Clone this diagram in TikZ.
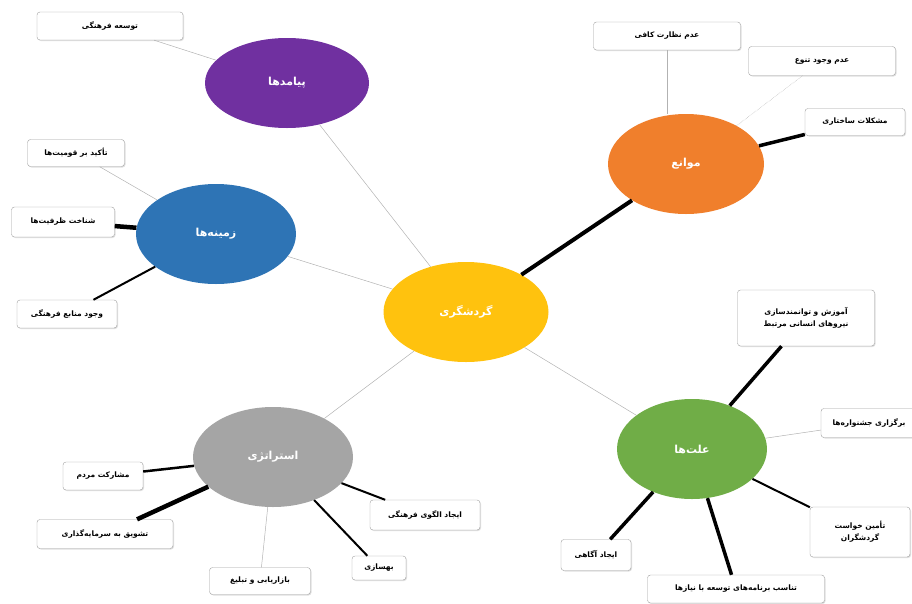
\documentclass[tikz,border=0pt]{standalone}
\usepackage{fontspec}
\usetikzlibrary{shapes.geometric,shadows}
\TeXXeTstate=1
\newfontfamily\farsifont[Script=Arabic]{DejaVu Sans}
\newcommand{\fa}[1]{{\farsifont\beginR #1\endR}}
\definecolor{hub-yellow}{HTML}{FFC20E}
\definecolor{topic-purple}{HTML}{7030A0}
\definecolor{topic-blue}{HTML}{2E74B5}
\definecolor{topic-orange}{HTML}{F07F2C}
\definecolor{topic-green}{HTML}{70AD47}
\definecolor{topic-gray}{HTML}{A5A5A5}
\tikzset{
    topic-ellipse/.style = {ellipse, draw=none, inner sep=0pt, minimum width=160pt, minimum height=100pt, text=white, font=\bfseries\fontsize{11}{13}\selectfont},
    leaf-box/.style = {draw=gray!75, fill=white, rounded corners=3pt, thin, inner sep=3pt, minimum height=28pt, align=center, font=\bfseries\fontsize{7.5}{12}\selectfont, drop shadow={opacity=0.25, shadow xshift=1pt, shadow yshift=-1pt}},
    thin-link/.style = {draw=gray!60, line width=0.5pt},
    mid-link/.style = {draw=black, line width=2pt},
    thick-link/.style = {draw=black, line width=3.5pt},
}

\begin{document}
\begin{tikzpicture}[x=1pt, y=-1pt]
\useasboundingbox (0,0) rectangle (912,603);
% main topics
\node [topic-ellipse, fill=hub-yellow, minimum width=165pt] (hub) at (466,312) {\fa{گردشگری}};
\node [topic-ellipse, fill=topic-purple, minimum width=164pt, minimum height=90pt] (outcomes) at (287,83) {\fa{پیامدها}};
\node [topic-ellipse, fill=topic-blue] (contexts) at (216,234) {\fa{زمینه‌ها}};
\node [topic-ellipse, fill=topic-orange, minimum width=156pt] (barriers) at (686,164) {\fa{موانع}};
\node [topic-ellipse, fill=topic-green, minimum width=150pt] (causes) at (692,449) {\fa{علت‌ها}};
\node [topic-ellipse, fill=topic-gray] (strategy) at (273,457) {\fa{استراتژی}};

% leaves
\node [leaf-box, minimum width=146pt] (out-culture) at (110,26) {\fa{توسعه فرهنگی}};

\node [leaf-box, minimum width=97pt, minimum height=27pt] (ctx-ethnic) at (76,153) {\fa{تأکید بر قومیت‌ها}};
\node [leaf-box, minimum width=103pt, minimum height=30pt] (ctx-capacity) at (63,222) {\fa{شناخت ظرفیت‌ها}};
\node [leaf-box, minimum width=100pt] (ctx-resources) at (67,314) {\fa{وجود منابع فرهنگی}};

\node [leaf-box, minimum width=147pt] (bar-monitor) at (667,36) {\fa{عدم نظارت کافی}};
\node [leaf-box, minimum width=147pt, minimum height=29pt] (bar-variety) at (822,61) {\fa{عدم وجود تنوع}};
\node [leaf-box, minimum width=100pt, minimum height=27pt] (bar-structure) at (855,122) {\fa{مشکلات ساختاری}};

\node [leaf-box, minimum width=137pt, minimum height=56pt] (cause-training) at (806,318) {\fa{آموزش و توانمندسازی}\\\fa{نیروهای انسانی مرتبط}};
\node [leaf-box, minimum width=96pt, minimum height=29pt] (cause-festival) at (869,423) {\fa{برگزاری جشنواره‌ها}};
\node [leaf-box, minimum width=100pt, minimum height=50pt] (cause-demand) at (860,532) {\fa{تأمین خواست}\\\fa{گردشگران}};
\node [leaf-box, minimum width=177pt] (cause-fit) at (736,589) {\fa{تناسب برنامه‌های توسعه با نیازها}};
\node [leaf-box, minimum width=70pt, minimum height=31pt] (cause-aware) at (596,555) {\fa{ایجاد آگاهی}};

\node [leaf-box, minimum width=80pt] (str-people) at (103,476) {\fa{مشارکت مردم}};
\node [leaf-box, minimum width=136pt, minimum height=29pt] (str-invest) at (105,534) {\fa{تشویق به سرمایه‌گذاری}};
\node [leaf-box, minimum width=101pt, minimum height=27pt] (str-marketing) at (260,581) {\fa{بازاریابی و تبلیغ}};
\node [leaf-box, minimum width=54pt, minimum height=24pt] (str-upgrade) at (379,568) {\fa{بهسازی}};
\node [leaf-box, minimum width=110pt, minimum height=30pt] (str-model) at (425,515) {\fa{ایجاد الگوی فرهنگی}};

% links from the hub
\draw [thin-link] (hub) -- (outcomes);
\draw [thin-link] (hub) -- (contexts);
\draw [thin-link] (hub) -- (strategy);
\draw [thin-link] (hub) -- (causes);
\draw [thick-link, line width=4pt] (hub) -- (barriers);

% links to leaves
\draw [thin-link] (outcomes) -- (out-culture);
\draw [thin-link] (contexts) -- (ctx-ethnic);
\draw [thick-link, line width=4.5pt] (contexts) -- (ctx-capacity);
\draw [mid-link] (contexts) -- (ctx-resources);
\draw [thin-link] (barriers.north -| bar-monitor) -- (bar-monitor);
\draw [thin-link, densely dotted] (barriers) -- (bar-variety);
\draw [thick-link] (barriers) -- (bar-structure);
\draw [thick-link] (causes) -- (cause-training);
\draw [thin-link] (causes) -- (cause-festival);
\draw [mid-link] (causes) -- (cause-demand);
\draw [thick-link] (causes) -- (cause-fit);
\draw [thick-link] (causes) -- (cause-aware);
\draw [mid-link, line width=2.5pt] (strategy) -- (str-people);
\draw [thick-link, line width=4.5pt] (strategy) -- (str-invest);
\draw [thin-link] (strategy) -- (str-marketing);
\draw [mid-link] (strategy) -- (str-upgrade);
\draw [mid-link] (strategy) -- (str-model);
\end{tikzpicture}
\end{document}
